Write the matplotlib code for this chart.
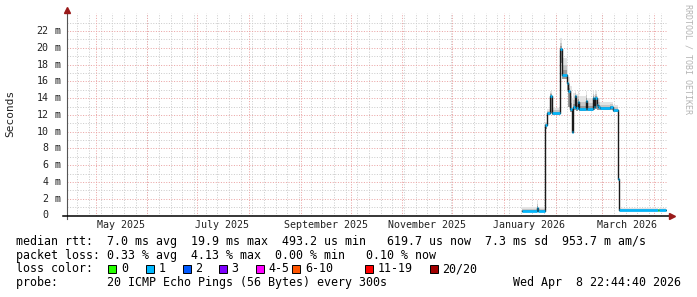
import matplotlib
matplotlib.use("Agg")
import matplotlib.pyplot as plt
import matplotlib.dates as mdates
import matplotlib.transforms as mtransforms
from matplotlib.patches import Rectangle
from matplotlib.lines import Line2D
import numpy as np
import pandas as pd

# ---------------- data ----------------
base_date = "2026-01-01"          # day offsets below are counted from this date
seg_start_day = [10.6, 19.6, 20.4, 24.3, 25.5, 27.4, 28.6, 33.6, 34.8, 37.8,
                 38.6, 39.4, 40.8, 41.4, 42.4, 43.0, 44.4, 45.2, 49.2, 50.0,
                 53.4, 54.0, 54.6, 55.8, 56.4, 57.6, 63.6, 65.4, 68.6, 69.2,
                 92.2, 93.2]
seg_end_day = 97.0
median_ms = [0.55, 0.9, 0.57, 10.8, 12.2, 14.3, 12.2, 19.9, 16.8, 15.8,
             14.8, 12.7, 10.0, 12.9, 14.2, 12.8, 13.5, 12.7, 13.7, 12.7,
             14.0, 12.9, 14.0, 13.2, 12.9, 12.8, 12.95, 12.6, 4.4, 0.65,
             0.62, 0.65]
smoke_hi_ms = [1.0, 1.85, 1.0, 11.2, 12.7, 14.9, 12.8, 21.2, 18.8, 17.8,
               16.5, 15.5, 14.0, 14.6, 15.0, 14.5, 14.9, 14.3, 14.9, 14.0,
               14.9, 14.4, 14.8, 14.3, 14.0, 13.6, 13.5, 13.2, 5.0, 0.85,
               0.8, 0.85]
smoke_lo_ms = [0.5, 0.55, 0.5, 10.3, 12.0, 12.2, 12.0, 18.2, 16.3, 15.0,
               13.0, 12.4, 9.8, 12.6, 12.6, 12.5, 12.6, 12.5, 12.5, 12.5,
               12.6, 12.6, 12.7, 12.6, 12.6, 12.6, 12.6, 12.4, 4.2, 0.55,
               0.55, 0.55]
loss_idx = [1] * 30 + [0, 1]

loss_labels = ["0", "1", "2", "3", "4-5", "6-10", "11-19", "20/20"]
loss_colors = ["#26ff00", "#00b8ff", "#0059ff", "#7e00ff", "#ff00ff",
               "#ff5500", "#ff0000", "#a10000"]

ytick_values = [0, 2, 4, 6, 8, 10, 12, 14, 16, 18, 20, 22]
ytick_digits = ["0", "2", "4", "6", "8", "10", "12", "14", "16", "18", "20", "22"]
ytick_suffix = ["", "m", "m", "m", "m", "m", "m", "m", "m", "m", "m", "m"]

xlabel_dates = ["2025-05-16", "2025-07-16", "2025-09-16", "2025-11-16",
                "2026-01-16", "2026-03-16"]
xlabel_texts = ["May 2025", "July 2025", "September 2025", "November 2025",
                "January 2026", "March 2026"]

end_time = pd.Timestamp("2026-04-08 22:44:40")
span_days = 360

legend_rtt = "median rtt:  7.0 ms avg  19.9 ms max  493.2 us min   619.7 us now  7.3 ms sd  953.7 m am/s"
legend_loss = "packet loss: 0.33 % avg  4.13 % max  0.00 % min   0.10 % now"
legend_color = "loss color:"
legend_probe = "probe:       20 ICMP Echo Pings (56 Bytes) every 300s"
legend_date = "Wed Apr  8 22:44:40 2026"

# ---------------- layout ----------------
W, H = 697.0, 297.0
MONO = "DejaVu Sans Mono"
fig = plt.figure(figsize=(W / 100, H / 100), dpi=100)
fig.patch.set_facecolor("white")

L, R, T, B = 67.25, 667.25, 13.0, 215.5
ax = fig.add_axes([L / W, 1 - B / H, (R - L) / W, (B - T) / H])
ax.set_facecolor("white")
for s in ax.spines.values():
    s.set_visible(False)

start_time = end_time - pd.Timedelta(days=span_days)
x0n = mdates.date2num(start_time)
x1n = mdates.date2num(end_time)
ax.set_xlim(x0n, x1n)
ax.set_ylim(0, 24.16)

minor_c = "#cccccc"
major_c = "#eba4a4"
dots = (0, (1, 1.6))

# vertical grid
for d in pd.date_range("2025-03-30", "2026-05-01", freq="W-SUN"):
    n = mdates.date2num(d)
    if x0n < n < x1n:
        ax.axvline(n, color=minor_c, lw=0.72, ls=dots, zorder=0)
for d in pd.date_range("2025-04-01", "2026-05-01", freq="MS"):
    n = mdates.date2num(d)
    if x0n < n < x1n:
        ax.axvline(n, color=major_c, lw=0.72, ls=dots, zorder=0.5)
# horizontal grid
for v in range(1, 25, 2):
    ax.axhline(v, color=minor_c, lw=0.72, ls=dots, zorder=0)
for v in ytick_values[1:]:
    ax.axhline(v, color=major_c, lw=0.72, ls=dots, zorder=0.5)

# ---------------- data drawing ----------------
bn = mdates.date2num(pd.Timestamp(base_date))
xs = np.array([bn + d for d in seg_start_day] + [bn + seg_end_day])
med = np.array(median_ms + [median_ms[-1]])
hi = np.array(smoke_hi_ms + [smoke_hi_ms[-1]])
lo = np.array(smoke_lo_ms + [smoke_lo_ms[-1]])

ax.fill_between(xs, lo, hi, step="post", color="#e4e4e4", lw=0, zorder=2)
ax.fill_between(xs, lo, med + 0.55 * (hi - med), step="post", color="#c6c6c6", lw=0, zorder=2.1)
ax.fill_between(xs, lo, med + 0.25 * (hi - med), step="post", color="#9a9a9a", lw=0, zorder=2.2)
ax.step(xs, med, where="post", color="#1a1a1a", lw=1.0, zorder=3)
ax.hlines(median_ms, xs[:-1], xs[1:], colors=[loss_colors[i] for i in loss_idx],
          lw=1.9, zorder=4)

ax.set_xticks([])
ax.set_yticks([])

# y tick labels
ty = mtransforms.blended_transform_factory(fig.transFigure, ax.transData)
for v, dg, sf in zip(ytick_values, ytick_digits, ytick_suffix):
    ax.text(48.6 / W, v, dg, transform=ty, ha="right", va="center",
            fontfamily=MONO, fontsize=7.2, color="#222222", clip_on=False)
    if sf:
        ax.text(60.6 / W, v, sf, transform=ty, ha="right", va="center",
                fontfamily=MONO, fontsize=7.2, color="#222222", clip_on=False)

# x labels
tx = mtransforms.blended_transform_factory(ax.transData, fig.transFigure)
for d, t in zip(xlabel_dates, xlabel_texts):
    ax.text(mdates.date2num(pd.Timestamp(d)), 1 - 225 / H, t, transform=tx,
            ha="center", va="center", fontfamily=MONO, fontsize=7.2,
            color="#222222", clip_on=False)

# axes lines and arrows
arrow_c = "#9a1a1a"
fig.add_artist(Line2D([L / W, L / W], [1 - 219 / H, 1 - 9 / H], color="#555555", lw=0.8))
fig.add_artist(Line2D([63 / W, 671 / W], [1 - B / H, 1 - B / H], color="black", lw=1.1))
fig.add_artist(Line2D([L / W], [1 - 9.5 / H], marker="^", color=arrow_c, markersize=4.2, lw=0))
fig.add_artist(Line2D([671.5 / W], [1 - B / H], marker=">", color=arrow_c, markersize=4.2, lw=0))

# y label and watermark
fig.text(10 / W, 1 - 113 / H, "Seconds", rotation=90, ha="center", va="center",
         fontfamily=MONO, fontsize=8, color="#222222")
fig.text(688 / W, 1 - 4 / H, "RRDTOOL / TOBI OETIKER", rotation=270, ha="center",
         va="top", fontfamily=MONO, fontsize=6, color="#b4b4b4")

# legend text
FS = 8.4
fig.text(16 / W, 1 - 241 / H, legend_rtt, ha="left", va="center", fontfamily=MONO, fontsize=FS)
fig.text(16 / W, 1 - 255 / H, legend_loss, ha="left", va="center", fontfamily=MONO, fontsize=FS)
fig.text(16 / W, 1 - 269 / H, legend_color, ha="left", va="center", fontfamily=MONO, fontsize=FS)
fig.text(16 / W, 1 - 282.7 / H, legend_probe, ha="left", va="center", fontfamily=MONO, fontsize=FS)
fig.text(681 / W, 1 - 282.7 / H, legend_date, ha="right", va="center", fontfamily=MONO, fontsize=FS)

box_x = [108.3, 145.7, 182.7, 219.0, 255.7, 292.3, 365.0, 430.0]
for bx, lab, c in zip(box_x, loss_labels, loss_colors):
    fig.add_artist(Rectangle((bx / W, 1 - 273 / H), 8 / W, 8 / H, transform=fig.transFigure,
                             facecolor=c, edgecolor="black", lw=0.7))
    fig.text((bx + 12.5) / W, 1 - 269 / H, lab, ha="left", va="center",
             fontfamily=MONO, fontsize=FS)

fig.savefig("out.png", dpi=100, facecolor="white")
